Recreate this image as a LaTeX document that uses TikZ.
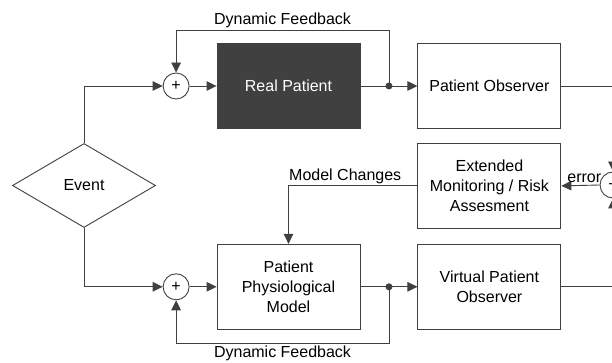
\documentclass[tikz,border=0pt]{standalone}
\usepackage{fontspec}
\setmainfont{Liberation Sans}
\usetikzlibrary{positioning,shapes.geometric,arrows.meta,calc}
\definecolor{boxgray}{HTML}{404040}

\begin{document}
\begin{tikzpicture}[
		  x=1pt, y=-1pt,
		  node distance=14pt and 57pt,
		  font=\fontsize{16}{20}\selectfont,
		  line width=0.9pt,
		  block/.style={draw=boxgray,rectangle,minimum width=143pt,minimum height=85pt,align=center,inner sep=0pt},
		  realblock/.style={block,fill=boxgray,text=white},
		  event/.style={draw=boxgray,diamond,minimum width=143pt,minimum height=84pt,inner sep=0pt},
		  sum/.style={draw=boxgray,circle,minimum size=26pt,inner sep=0pt},
		  wire/.style={draw=boxgray},
		  arr/.style={wire,-{Triangle[length=10pt,width=9.5pt]}},
		  lbl/.style={inner sep=2pt}
		]
		\useasboundingbox (0,0) rectangle (612,363);
		\clip (0,0) rectangle (612,363);
		\node[realblock] (Real) at (288.5,86) {Real Patient};
		\node[block, right=of Real] (Observer) {Patient Observer};
		\node[block, below=of Observer] (Monitor) {Extended\\Monitoring / Risk\\Assesment};
		\node[block, below=15pt of Monitor] (Virtual) {Virtual Patient\\Observer};
		\node[block, left=of Virtual] (Model) {Patient\\Physiological\\Model};
		\node[event] (Event) at (84,185.5) {Event};
		\node[sum, left=27pt of Real] (SumTop) {+};
		\node[sum, left=27pt of Model] (SumBot) {+};
		\node[sum] (Error) at (613,185) {+};
		\coordinate (DotTop) at ($(Real.east)!0.5!(Observer.west)$);
		\coordinate (DotBot) at ($(Model.east)!0.5!(Virtual.west)$);
		\coordinate (FbTop) at ([yshift=56pt]DotTop);
		\coordinate (FbBot) at ([yshift=-57pt]DotBot);
		\fill[boxgray] (DotTop) circle (3.5pt) (DotBot) circle (3.5pt);
		\draw[arr] (Event.north) |- (SumTop.west);
		\draw[arr] (Event.south) |- (SumBot.west);
		\draw[arr] (SumTop) -- (Real);
		\draw[arr] (SumBot) -- (Model);
		\draw[wire] (Real) -- (DotTop);
		\draw[wire] (Model) -- (DotBot);
		\draw[arr] (DotTop) -- (Observer);
		\draw[arr] (DotBot) -- (Virtual);
		\draw[arr] (DotTop) -- (FbTop) -| node[lbl, above, pos=0.25] {Dynamic Feedback} (SumTop);
		\draw[arr] (DotBot) -- (FbBot) -| node[lbl, below, pos=0.25] {Dynamic Feedback} (SumBot);
		\draw[arr] (Observer) -| (Error);
		\draw[arr] (Virtual) -| (Error);
		\draw[arr] (Error.west) -- node[lbl, above, pos=0.4] {error} (Monitor.east);
		\draw[arr] (Monitor.west) -| node[lbl, above, pos=0.28] {Model Changes} (Model.north);
		\end{tikzpicture}
\end{document}
